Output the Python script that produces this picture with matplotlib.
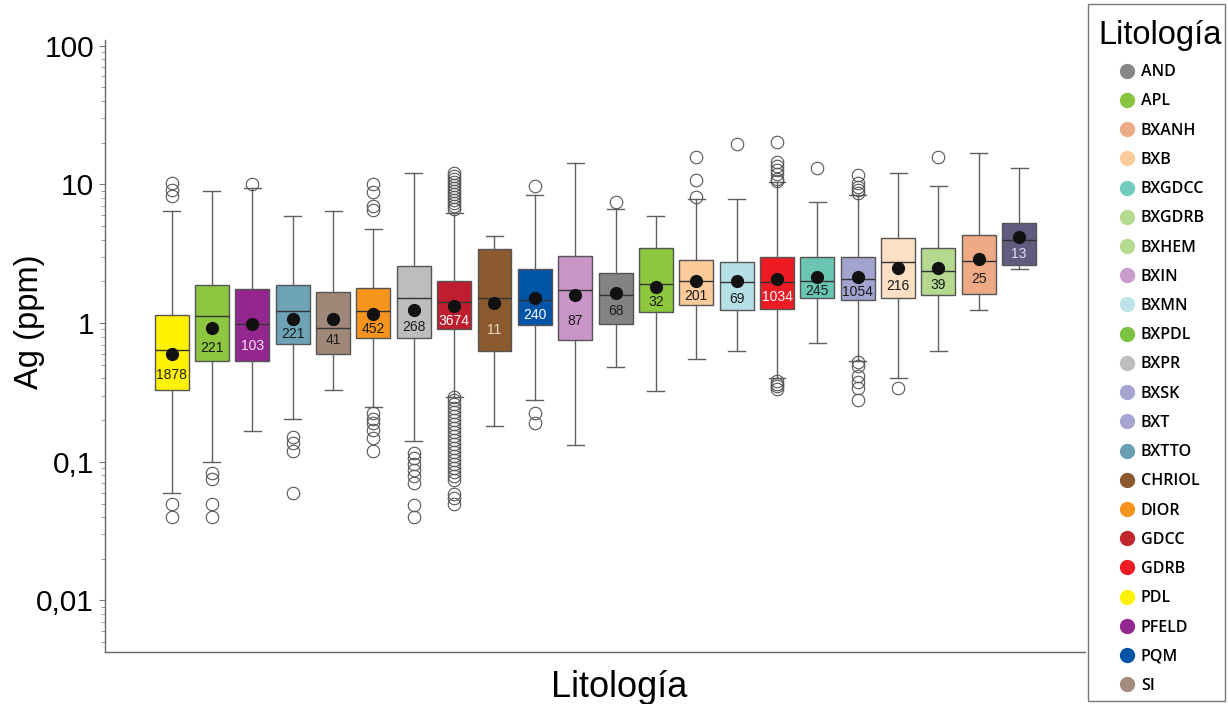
import matplotlib
matplotlib.use("Agg")
import matplotlib.pyplot as plt
from matplotlib.lines import Line2D
from matplotlib.patches import Rectangle
from matplotlib import transforms
import numpy as np

plt.rcParams['font.family'] = ['Liberation Sans', 'DejaVu Sans']

# ---- data (Ag ppm) ----
categories = ["PDL", "APL", "PFELD", "BXTTO", "SI", "DIOR", "BXPR", "GDCC", "CHRIOL", "PQM", "BXIN",
              "AND", "BXPDL", "BXB", "BXMN", "GDRB", "BXGDCC", "BXSK", "BXT", "BXGDRB", "BXANH", "BXHEM"]
counts = [1878, 221, 103, 221, 41, 452, 268, 3674, 11, 240, 87, 68, 32, 201, 69, 1034, 245, 1054, 216, 39, 25, 13]
whislo = [0.060, 0.100, 0.168, 0.202, 0.329, 0.249, 0.141, 0.294, 0.181, 0.279, 0.132,
          0.479, 0.325, 0.550, 0.628, 0.399, 0.714, 0.535, 0.399, 0.631, 1.235, 2.45]
q1 = [0.329, 0.530, 0.530, 0.709, 0.595, 0.783, 0.783, 0.905, 0.628, 0.963, 0.750,
      0.988, 1.206, 1.355, 1.241, 1.268, 1.507, 1.465, 1.507, 1.584, 1.627, 2.62]
med = [0.642, 1.118, 0.983, 1.227, 0.925, 1.220, 1.514, 1.410, 1.514, 1.465, 1.721,
       1.600, 1.901, 2.000, 1.966, 1.966, 2.000, 2.066, 2.739, 2.383, 2.785, 3.97]
q3 = [1.137, 1.888, 1.750, 1.888, 1.665, 1.797, 2.576, 2.009, 3.434, 2.451, 3.057,
      2.282, 3.474, 2.846, 2.767, 2.991, 2.991, 2.991, 4.120, 3.491, 4.330, 5.23]
whishi = [6.42, 8.99, 9.36, 5.91, 6.45, 4.74, 12.0, 6.24, 4.26, 8.37, 14.3,
          6.60, 5.94, 7.80, 7.80, 10.34, 7.42, 8.37, 12.0, 9.67, 16.9, 13.05]
means = [0.595, 0.925, 0.983, 1.069, 1.069, 1.161, 1.241, 1.326, 1.400, 1.514, 1.600,
         1.654, 1.827, 2.000, 2.000, 2.066, 2.135, 2.135, 2.504, 2.504, 2.908, 4.15]
fliers = [
    [10.2, 9.1, 8.2, 0.050, 0.040],
    [0.083, 0.075, 0.050, 0.040],
    [10.0],
    [0.151, 0.136, 0.120, 0.060],
    [],
    [10.0, 8.8, 7.0, 6.5, 0.225, 0.205, 0.190, 0.170, 0.148, 0.120],
    [0.115, 0.106, 0.096, 0.087, 0.079, 0.070, 0.049, 0.040],
    [12.06, 11.47, 10.92, 10.39, 9.89, 9.40, 8.95, 8.51, 8.10, 7.70, 7.33, 6.97, 6.64,
     0.293, 0.279, 0.261, 0.244, 0.228, 0.214, 0.200, 0.187, 0.175, 0.164, 0.153, 0.143,
     0.134, 0.126, 0.117, 0.110, 0.103, 0.096, 0.090, 0.084, 0.079, 0.074, 0.059, 0.055, 0.050],
    [],
    [9.72, 0.223, 0.189],
    [],
    [7.49],
    [],
    [15.8, 10.74, 8.14],
    [19.5],
    [20.3, 14.5, 13.5, 12.6, 11.8, 11.0, 10.5, 0.385, 0.365, 0.350, 0.335],
    [13.2],
    [11.7, 10.2, 9.6, 9.1, 8.6, 0.52, 0.49, 0.415, 0.375, 0.34, 0.28],
    [0.342],
    [15.65],
    [],
    [],
]
box_colors = ["#FFF200", "#8DC63F", "#93278F", "#6DA2B7", "#A08878", "#F7941D", "#BDBDBD",
              "#BE1E2D", "#8B5A2E", "#0054A6", "#C994C7", "#838383", "#8DC63F", "#FDCB9A",
              "#B5E1E6", "#ED1C24", "#6BC5B3", "#A3A3D0", "#FDDFC3", "#B4D98F", "#EEA985", "#5F5C80"]
label_colors = ["#222222", "#1a1a1a", "#F4E6F4", "#1a1a1a", "#1a1a1a", "#1a1a1a", "#1a1a1a",
                "#FFFFFF", "#EAD9C2", "#FFFFFF", "#1a1a1a", "#1a1a1a", "#1a1a1a", "#1a1a1a",
                "#1a1a1a", "#FFFFFF", "#1a1a1a", "#1a1a1a", "#1a1a1a", "#1a1a1a", "#1a1a1a", "#E0E0F2"]

legend_names = ["AND", "APL", "BXANH", "BXB", "BXGDCC", "BXGDRB", "BXHEM", "BXIN", "BXMN", "BXPDL",
                "BXPR", "BXSK", "BXT", "BXTTO", "CHRIOL", "DIOR", "GDCC", "GDRB", "PDL", "PFELD", "PQM", "SI"]
legend_colors = ["#878787", "#86C440", "#EDAA86", "#FCCB9A", "#72CDBF", "#B5DA90", "#B5DA90", "#C99BCB",
                 "#BBE3E8", "#7BC142", "#BEBEBE", "#A8A6D0", "#A8A6D0", "#6A9EB5", "#8B5A33", "#F7941D",
                 "#C1272D", "#ED1C24", "#FFF200", "#92278F", "#0054A6", "#A38B7E"]

yticks = [0.01, 0.1, 1, 10, 100]
yticklabels = ["0,01", "0,1", "1", "10", "100"]

# ---- figure ----
W, H = 1228, 704
fig = plt.figure(figsize=(W / 100, H / 100), dpi=100)
ax = fig.add_axes([0.0855, 0.0739, 0.798, 0.8693])

stats = []
for i in range(len(categories)):
    stats.append(dict(label=categories[i], whislo=whislo[i], q1=q1[i], med=med[i],
                      q3=q3[i], whishi=whishi[i], mean=means[i], fliers=fliers[i]))

positions = np.arange(1, len(categories) + 1)
bp = ax.bxp(stats, positions=positions, widths=0.84, patch_artist=True, showmeans=True,
            boxprops=dict(edgecolor="#555555", linewidth=1.0),
            whiskerprops=dict(color="#606060", linewidth=1.0),
            capprops=dict(color="#606060", linewidth=1.0),
            medianprops=dict(color="#333333", linewidth=1.0),
            meanprops=dict(marker="o", markerfacecolor="#111111", markeredgecolor="#111111",
                           markersize=8.5),
            flierprops=dict(marker="o", markerfacecolor="none", markeredgecolor="#555555",
                            markersize=9, markeredgewidth=0.8))
for patch, c in zip(bp["boxes"], box_colors):
    patch.set_facecolor(c)

# count labels inside boxes
lab_tr = transforms.offset_copy(ax.transData, fig=fig, x=0, y=-3, units="dots")
for i in range(len(categories)):
    ypos = np.sqrt(means[i] * q1[i])
    ax.text(positions[i], ypos, str(counts[i]), transform=lab_tr, ha="center", va="center",
            fontsize=10, color=label_colors[i], zorder=5)

ax.set_yscale("log")
ax.set_ylim(0.00425, 110)
ax.set_xlim(-0.65, 23.63)
ax.set_yticks(yticks)
ax.set_yticklabels(yticklabels, fontsize=21.5)
ax.set_xticks([])
ax.tick_params(axis="y", which="major", length=4, width=0.8, color="#777777", pad=4)
ax.tick_params(axis="y", which="minor", length=3, width=0.6, color="#888888")
for s in ["top", "right"]:
    ax.spines[s].set_visible(False)
for s in ["left", "bottom"]:
    ax.spines[s].set_color("#666666")
    ax.spines[s].set_linewidth(1.0)

ax.set_ylabel("Ag (ppm)", fontsize=23.5, va="center")
ax.yaxis.set_label_coords(-0.077, 0.539)
ax.set_xlabel("Litología", fontsize=26, va="center")
ax.xaxis.set_label_coords(0.5245, -0.0588)

# legend frame (drawn separately) and legend content
fig.patches.append(Rectangle((1088 / W, 1 - 701 / H), (1225 - 1088) / W, (701 - 4) / H,
                             transform=fig.transFigure, fill=False, edgecolor="#777777",
                             linewidth=1.0))
handles = [Line2D([0], [0], marker="o", linestyle="none", markersize=10,
                  markerfacecolor=c, markeredgecolor=c) for c in legend_colors]
leg = fig.legend(handles, legend_names, loc="upper center", bbox_to_anchor=(1160 / W, 1 - 20 / H),
                 title="Litología", title_fontsize=23.5, frameon=False,
                 handlelength=1.5, handletextpad=0.125, labelspacing=0.828,
                 borderpad=0, borderaxespad=0, alignment="center",
                 prop=dict(family="Open Sans", weight="semibold", size=11.5))

fig.savefig("out.png", dpi=100)
